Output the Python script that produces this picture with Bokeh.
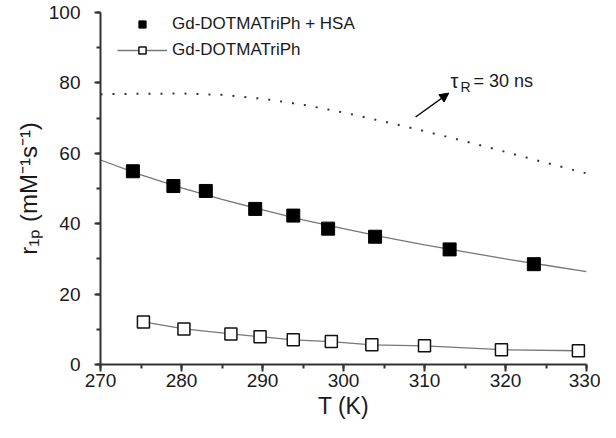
from bokeh.plotting import figure
from bokeh.models import (SingleIntervalTicker, Label, Arrow, NormalHead,
                          Legend, LegendItem)
from bokeh.embed import file_html
from bokeh.resources import INLINE

# ---- data ----
T_hsa = [274.0, 279.0, 283.0, 289.1, 293.8, 298.1, 303.9, 313.1, 323.5]
r_hsa = [54.9, 50.7, 49.3, 44.2, 42.3, 38.6, 36.3, 32.7, 28.5]

T_free = [275.3, 280.3, 286.1, 289.7, 293.8, 298.5, 303.5, 310.0, 319.5, 329.0]
r_free = [12.1, 10.1, 8.7, 7.9, 7.0, 6.5, 5.6, 5.3, 4.2, 3.9]

T_curve = [270, 275, 280, 285, 290, 295, 300, 305, 310, 315, 320, 325, 330]
r_fit_hsa = [58.1, 53.9, 50.2, 46.9, 43.9, 41.1, 38.6, 36.2, 34.0, 32.0, 30.0, 28.2, 26.4]
r_tau30 = [76.8, 76.9, 77.0, 76.6, 75.5, 73.8, 71.6, 69.0, 66.3, 63.4, 60.4, 57.3, 54.3]

x_ticks_interval = 10
y_ticks_interval = 20
label_hsa = "Gd-DOTMATriPh + HSA"
label_free = "Gd-DOTMATriPh"
x_title = "T (K)"
y_title = "r\u2081\u209a (mM\u207b\u00b9s\u207b\u00b9)"

FONT = "Liberation Sans"
TXT = "#1a1a1a"

p = figure(width=600, height=422, x_range=(270, 330), y_range=(0, 100),
           output_backend="svg", toolbar_location=None,
           min_border_left=100, min_border_right=14, min_border_top=12,
           min_border_bottom=58)
p.outline_line_color = None
p.xgrid.visible = False
p.ygrid.visible = False
p.background_fill_color = "white"
p.border_fill_color = "white"

for ax, iv in ((p.xaxis[0], x_ticks_interval), (p.yaxis[0], y_ticks_interval)):
    ax.ticker = SingleIntervalTicker(interval=iv, num_minor_ticks=2)
    ax.axis_line_width = 2
    ax.axis_line_color = "#333333"
    ax.major_tick_line_color = "#333333"
    ax.minor_tick_line_color = "#333333"
    ax.major_tick_line_width = 2
    ax.minor_tick_line_width = 2
    ax.major_tick_in = 0
    ax.minor_tick_in = 0
    ax.major_label_text_font = FONT
    ax.major_label_text_font_size = "19px"
    ax.major_label_text_color = TXT
    ax.axis_label_text_font = FONT
    ax.axis_label_text_font_style = "normal"
    ax.axis_label_text_color = TXT

p.xaxis.axis_label = x_title
p.xaxis.axis_label_text_font_size = "23px"
p.xaxis.axis_label_standoff = 3
p.xaxis.major_tick_out = 7
p.xaxis.minor_tick_out = 4
p.xaxis.major_label_standoff = 2

p.yaxis.axis_label = y_title
p.yaxis.axis_label_text_font_size = "24px"
p.yaxis.axis_label_standoff = 4
p.yaxis.major_tick_out = 6
p.yaxis.minor_tick_out = 4
p.yaxis.major_label_standoff = 14

# ---- curves ----
p.line(T_curve, r_tau30, line_color="#333333", line_width=2, line_dash="2 10")
p.line(T_curve, r_fit_hsa, line_color="#777777", line_width=1.3)
free_line = p.line(T_free, r_free, line_color="#777777", line_width=1.3)
hsa_pts = p.scatter(T_hsa, r_hsa, marker="square", size=13,
                    fill_color="black", line_color="black")
free_pts = p.scatter(T_free, r_free, marker="square", size=12,
                     fill_color="white", line_color="#111111", line_width=1.5)

# ---- legend ----
legend = Legend(items=[LegendItem(label=label_hsa, renderers=[hsa_pts]),
                       LegendItem(label=label_free, renderers=[free_line, free_pts])],
                location=(17, 304), orientation="vertical",
                glyph_width=50, glyph_height=18, label_height=18,
                spacing=6, padding=0, margin=0, label_standoff=5,
                label_text_font=FONT, label_text_font_size="17px",
                label_text_color=TXT, background_fill_alpha=0,
                border_line_color=None)
p.add_layout(legend, "center")

# ---- tau_R annotation ----
p.add_layout(Arrow(end=NormalHead(size=9, fill_color="black", line_color="black"),
                   x_start=308.9, y_start=70.3, x_end=313.0, y_end=77.1,
                   line_width=1.3, line_color="black"))
tx, ty = 313.2, 80.6
p.add_layout(Label(x=tx, y=ty, text="τ", text_font=FONT, text_font_size="20px",
                   text_color=TXT, text_baseline="alphabetic"))
p.add_layout(Label(x=tx, y=ty - 6 / 3.52, x_offset=10, text="R", text_font=FONT,
                   text_font_size="14px", text_color=TXT, text_baseline="alphabetic"))
p.add_layout(Label(x=tx, y=ty, x_offset=23, text="= 30 ns", text_font=FONT,
                   text_font_size="18px", text_color=TXT, text_baseline="alphabetic"))

open("out.html", "w").write(file_html(p, INLINE))
